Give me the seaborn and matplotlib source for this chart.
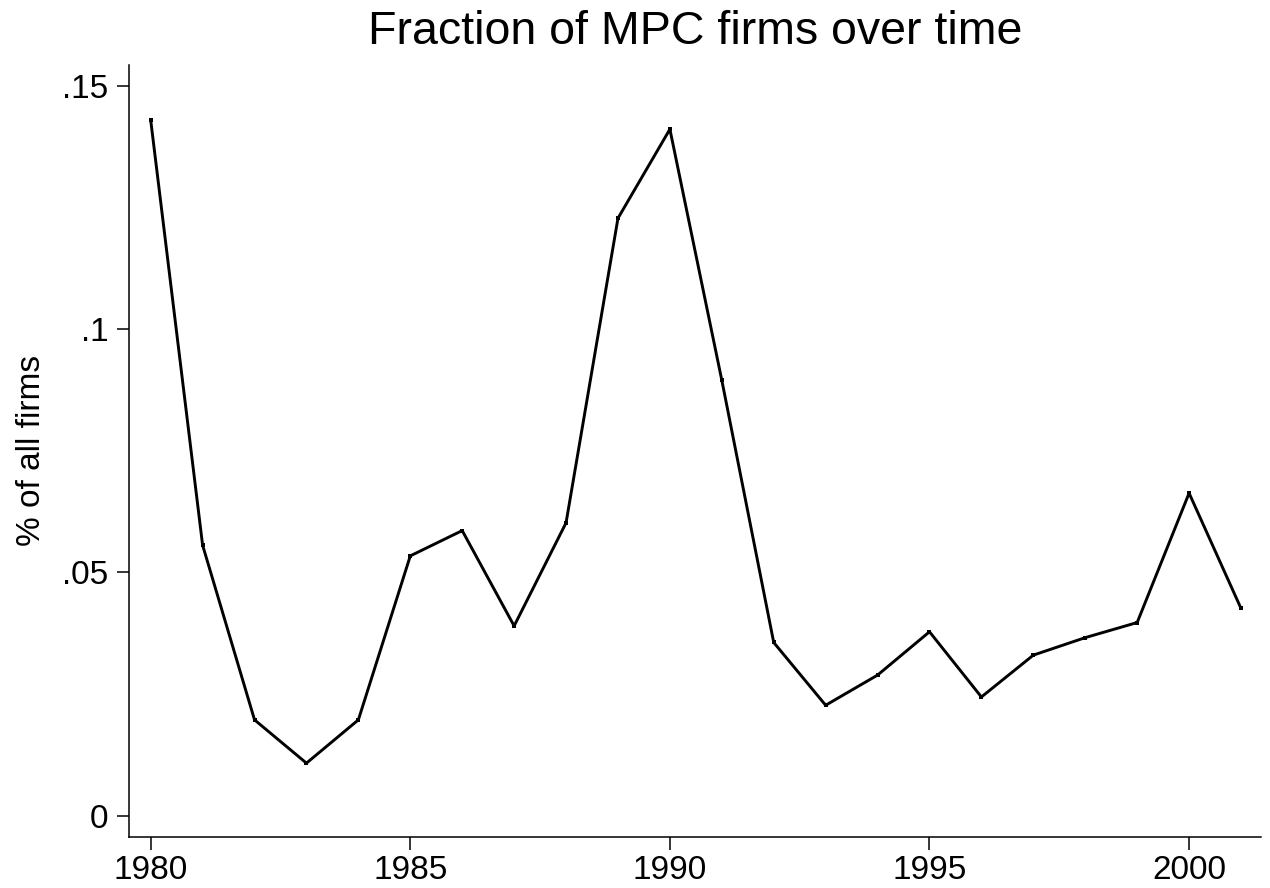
import matplotlib
matplotlib.use("Agg")
import matplotlib.pyplot as plt
import seaborn as sns
import pandas as pd

years = list(range(1980, 2002))
fraction = [0.1430, 0.0556, 0.0197, 0.0108, 0.0197, 0.0534, 0.0586, 0.0390,
            0.0602, 0.1228, 0.1411, 0.0895, 0.0356, 0.0227, 0.0289, 0.0378,
            0.0244, 0.0330, 0.0366, 0.0397, 0.0663, 0.0426]
x_ticks = [1980, 1985, 1990, 1995, 2000]
y_ticks = [0, 0.05, 0.10, 0.15]
y_tick_labels = ["0", ".05", ".1", ".15"]
title = "Fraction of MPC firms over time"
y_label = "% of all firms"

sns.set_style("ticks")
plt.rcParams['font.family'] = ['Liberation Sans', 'DejaVu Sans']
plt.rcParams['text.color'] = 'black'
plt.rcParams['axes.labelcolor'] = 'black'

df = pd.DataFrame({"year": years, "fraction": fraction})

fig = plt.figure(figsize=(12.7, 8.88), dpi=100)
ax = fig.add_axes([129.3 / 1270, 1 - 836.7 / 888, (1261 - 129.3) / 1270, (836.7 - 65) / 888])

sns.lineplot(data=df, x="year", y="fraction", ax=ax, color="black", linewidth=2.1,
             marker="s", markersize=2.5, markeredgewidth=0)

ax.set_xlim(1979.588, 2001.385)
ax.set_ylim(-0.00432, 0.1543)
ax.set_xticks(x_ticks)
ax.set_xticklabels([str(v) for v in x_ticks])
ax.set_yticks(y_ticks)
ax.set_yticklabels(y_tick_labels)

for side in ["top", "right"]:
    ax.spines[side].set_visible(False)
for side in ["left", "bottom"]:
    ax.spines[side].set_linewidth(1.1)
    ax.spines[side].set_color("black")

ax.tick_params(axis="both", direction="out", length=9, width=1.1, colors="black",
               labelcolor="black", labelsize=24)
ax.tick_params(axis="x", pad=4.5)
ax.tick_params(axis="y", pad=6)

ax.set_xlabel("")
ax.set_ylabel(y_label, fontsize=24, labelpad=11, color="black")
ax.set_title(title, fontsize=33.5, pad=15, color="black")

fig.savefig("out.png", dpi=100, facecolor="white")
